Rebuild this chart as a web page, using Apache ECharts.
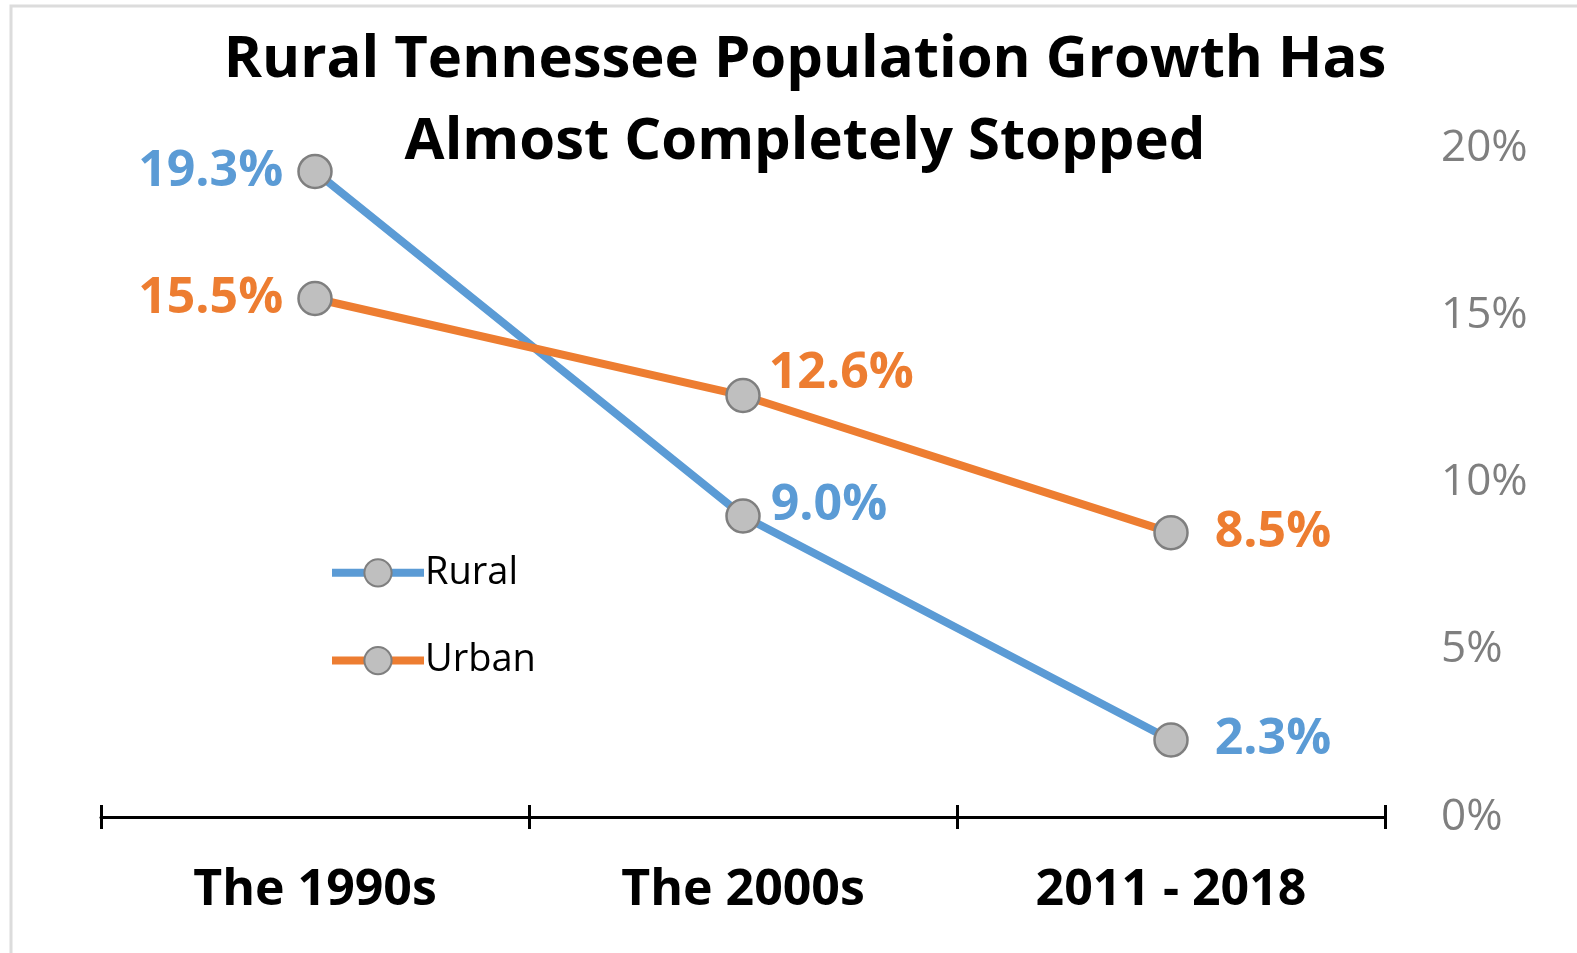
<!DOCTYPE html>
<html>
<head>
    <title>Rural Tennessee Population Growth</title>
    <script src="https://cdn.jsdelivr.net/npm/echarts@6/dist/echarts.min.js"></script>
    <style>body { margin: 0; background: #fff; }</style>
</head>
<body>
    <div id="chart" style="width: 1577px;height:953px;"></div>

    <script>
        const periods = ['The 1990s', 'The 2000s', '2011 - 2018']
        const rural = [19.3, 9.0, 2.3]
        const urban = [15.5, 12.6, 8.5]
        const yTicks = [0, 5, 10, 15, 20]

        // where each value label sits next to its point
        const ruralLabels = [
            { position: 'left', distance: 14 },
            { position: 'right', distance: 10, offset: [0, -10] },
            { position: 'right', distance: 26 }
        ]
        const urbanLabels = [
            { position: 'left', distance: 14 },
            { position: 'right', distance: 8, offset: [0, -22] },
            { position: 'right', distance: 26 }
        ]

        const font = 'Open Sans'
        const blue = '#5b9bd5', orange = '#ed7d31'

        function line(name, vals, color, labels) {
            return {
                name, type: 'line',
                data: vals.map((v, i) => ({ value: v, label: Object.assign({ color }, labels[i]) })),
                symbol: 'circle', symbolSize: 33,
                lineStyle: { color, width: 8 },
                itemStyle: { color: '#bfbfbf', borderColor: '#7f7f7f', borderWidth: 2.5 },
                label: {
                    show: true, fontFamily: font, fontWeight: 'bold', fontSize: 50,
                    formatter: p => p.value.toFixed(1) + '%'
                }
            }
        }

        const chart = echarts.init(document.getElementById('chart'))
        chart.setOption({
            animation: false,
            title: {
                text: 'Rural Tennessee Population Growth Has\nAlmost Completely Stopped',
                left: 800, top: 14, textAlign: 'center',
                textStyle: { fontFamily: font, fontWeight: 'bold', fontSize: 58, lineHeight: 82, color: '#000' }
            },
            graphic: [{
                type: 'rect', shape: { x: 11, y: 6, width: 1700, height: 1100 },
                style: { fill: 'none', stroke: '#dcdcdc', lineWidth: 3 }, silent: true
            }],
            legend: {
                orient: 'vertical', left: 323, top: 537, itemGap: 26,
                itemWidth: 92, itemHeight: 34,
                lineStyle: { width: 8 },
                textStyle: { fontFamily: font, fontSize: 38, color: '#000', padding: [0, 0, 0, -4] },
                data: ['Rural', 'Urban']
            },
            grid: { left: 101, right: 192, top: 148, bottom: 136 },
            xAxis: [{
                type: 'category', data: periods,
                axisLine: { lineStyle: { color: '#000', width: 3 } },
                axisTick: { show: true, interval: 0, length: 12, lineStyle: { color: '#000', width: 3 } },
                axisLabel: { fontFamily: font, fontWeight: 'bold', fontSize: 50, color: '#000', margin: 28 }
            }, {
                type: 'category', data: periods, position: 'bottom',
                axisLine: { show: false },
                axisTick: { show: true, interval: 0, inside: true, length: 12, lineStyle: { color: '#000', width: 3 } },
                axisLabel: { show: false }
            }],
            yAxis: {
                type: 'value', position: 'right',
                min: yTicks[0], max: yTicks[yTicks.length - 1], interval: 5,
                axisLine: { show: false }, axisTick: { show: false }, splitLine: { show: false },
                axisLabel: { fontFamily: font, fontSize: 44, color: '#7f7f7f', margin: 56, formatter: '{value}%' }
            },
            series: [
                line('Rural', rural, blue, ruralLabels),
                line('Urban', urban, orange, urbanLabels)
            ]
        })
    </script>
</body>
</html>
